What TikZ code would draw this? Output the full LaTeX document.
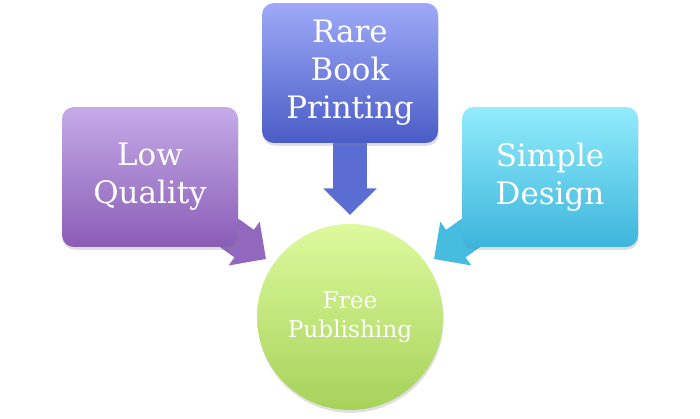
\documentclass[tikz,border=0pt]{standalone}
\usepackage{fontspec}
\setmainfont{DejaVu Serif}
\usetikzlibrary{arrows.meta,shadows,backgrounds}

\definecolor{lowtop}{HTML}{C6ABE8}
\definecolor{lowbot}{HTML}{8A5DB6}
\definecolor{lowarrow}{HTML}{9168BE}
\definecolor{raretop}{HTML}{9EAAF8}
\definecolor{rarebot}{HTML}{4A5CC6}
\definecolor{rarearrow}{HTML}{5B6DD2}
\definecolor{simpletop}{HTML}{92ECFC}
\definecolor{simplebot}{HTML}{3DB5DC}
\definecolor{simplearrow}{HTML}{45BCE0}
\definecolor{freetop}{HTML}{DDFA9E}
\definecolor{freebot}{HTML}{A6D25A}

\begin{document}
\begin{tikzpicture}[x=0.05cm, y=-0.05cm,
    box/.style={rectangle, rounded corners=17pt, minimum width=8.8cm, minimum height=7cm,
        text=white, align=center, font=\fontsize{44}{54}\selectfont,
        drop shadow={opacity=0.25, shadow xshift=1pt, shadow yshift=-4pt}},
    blockarrow/.style={line width=48pt, -{Triangle[length=38pt, width=74pt]}}]
    \useasboundingbox (0,0) rectangle (700,419);

    \node[box, top color=lowtop, bottom color=lowbot] (low) at (150,177) {Low\\Quality};
    \node[box, top color=raretop, bottom color=rarebot] (rare) at (350,73) {Rare\\Book\\Printing};
    \node[box, top color=simpletop, bottom color=simplebot] (simple) at (550,177) {Simple\\Design};
    \node[circle, minimum size=9.3cm, top color=freetop, bottom color=freebot, text=white,
        align=center, font=\fontsize{33}{41}\selectfont,
        drop shadow={opacity=0.25, shadow xshift=1pt, shadow yshift=-4pt}] (free) at (350,317) {Free\\Publishing};

    \coordinate (lowtip) at (266,259);
    \coordinate (raretip) at (350,215);
    \coordinate (simpletip) at (434,259);

    \begin{scope}[on background layer]
        \draw[blockarrow, lowarrow] (low.center) -- (lowtip);
        \draw[blockarrow, rarearrow] (rare.center) -- (raretip);
        \draw[blockarrow, simplearrow] (simple.center) -- (simpletip);
    \end{scope}
\end{tikzpicture}
\end{document}
